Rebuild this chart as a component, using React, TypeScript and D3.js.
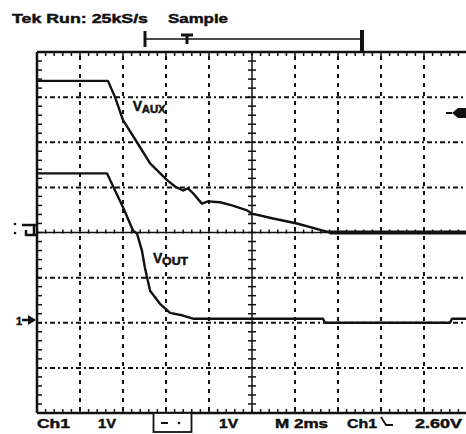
import React from "react";
import * as d3 from "d3";

// scope screen: 2 ms/div horizontally, 1 V/div vertically, ch1 ground at 0
const auxTime = [0, 3.3, 3.63, 4.0, 4.65, 5.26, 6.05, 6.42, 6.79, 7.02, 7.26, 7.67, 7.95, 8.51, 9.07, 9.77, 10.0, 10.98, 12.09, 13.3, 13.63, 20];
const auxVolts = [5.36, 5.36, 5.0, 4.49, 4.0, 3.53, 3.16, 3.02, 2.93, 2.98, 2.87, 2.64, 2.69, 2.67, 2.6, 2.49, 2.42, 2.31, 2.2, 2.04, 2.0, 2.0];

const outTime = [0, 3.26, 3.63, 4.0, 4.47, 4.65, 4.88, 5.02, 5.26, 5.72, 6.19, 6.79, 7.26, 13.3, 13.4, 19.21, 19.3, 20];
const outVolts = [3.31, 3.31, 2.93, 2.56, 2.04, 1.98, 1.6, 1.22, 0.71, 0.42, 0.22, 0.16, 0.09, 0.09, 0.0, 0.0, 0.09, 0.09];

const headerLabels = ["Tek Run: 25kS/s", "Sample"];
const readoutLabels = ["Ch1", "1V", "1V", "M 2ms", "Ch1", "2.60V"];
const traceLabels = [
  { main: "V", sub: "AUX", t: 4.45, v: 4.7 },
  { main: "V", sub: "OUT", t: 5.4, v: 1.33 },
];

const W = 466;
const H = 434;
const ink = "#111";

const App = () => {
  const x = d3.scaleLinear().domain([0, 20]).range([37, 467]);
  const y = d3.scaleLinear().domain([-2, 6]).range([413, 52]);

  const line = d3
    .line<[number, number]>()
    .x((d) => x(d[0]))
    .y((d) => y(d[1]));

  const auxPts = auxTime.map((t, i) => [t, auxVolts[i]] as [number, number]);
  const outPts = outTime.map((t, i) => [t, outVolts[i]] as [number, number]);

  const majorX = d3.range(2, 20, 2).filter((t) => t !== 10);
  const majorY = d3.range(-1, 6, 1).filter((v) => v !== 2);
  const minorX = d3.range(0, 20.01, 0.4);
  const minorY = d3.range(-2, 6.01, 0.2);

  const font = "'Liberation Sans', Arial, sans-serif";
  const txt = { fontFamily: font, fontWeight: "bold", fill: ink, stroke: ink, strokeWidth: 0.45 } as const;

  return (
    <svg width={W} height={H} style={{ position: "absolute", left: 0, top: 0, background: "#fff" }}>
      {/* header */}
      <text x={12} y={23} {...txt} fontSize={13} textLength={136} lengthAdjust="spacingAndGlyphs">
        {headerLabels[0]}
      </text>
      <text x={168} y={23} {...txt} fontSize={13} textLength={60} lengthAdjust="spacingAndGlyphs">
        {headerLabels[1]}
      </text>

      {/* record bracket */}
      <line x1={145} x2={362} y1={39} y2={39} stroke={ink} strokeWidth={1.5} />
      <line x1={145} x2={145} y1={31} y2={47} stroke={ink} strokeWidth={3} />
      <line x1={362} x2={362} y1={30} y2={52} stroke={ink} strokeWidth={4} />
      <path d="M181,35 H193 M187,35 V44" stroke={ink} strokeWidth={3} fill="none" />

      {/* dotted verticals */}
      {majorX.map((t) => (
        <line key={"gx" + t} x1={x(t)} x2={x(t)} y1={y(6) + 4} y2={y(-2) - 2} stroke={ink} strokeWidth={2} strokeDasharray="4,5" />
      ))}
      {/* dash-dot horizontals */}
      {majorY.map((v) => (
        <line key={"gy" + v} x1={x(0)} x2={x(20)} y1={y(v)} y2={y(v)} stroke={ink} strokeWidth={2} strokeDasharray="5,3,2,3" />
      ))}

      {/* centre axes with ticks */}
      <line x1={x(10)} x2={x(10)} y1={y(6)} y2={y(-2)} stroke={ink} strokeWidth={1.5} />
      <line x1={x(0)} x2={x(20)} y1={y(2)} y2={y(2)} stroke={ink} strokeWidth={1.5} />
      {minorY.map((v) => (
        <line key={"cy" + v} x1={x(10) - 4} x2={x(10) + 4} y1={y(v)} y2={y(v)} stroke={ink} strokeWidth={1.5} />
      ))}
      {minorX.map((t) => (
        <line key={"cx" + t} x1={x(t)} x2={x(t)} y1={y(2) - 3} y2={y(2) + 1} stroke={ink} strokeWidth={1.5} />
      ))}

      {/* frame ticks */}
      {minorX.map((t) => (
        <g key={"fx" + t}>
          <line x1={x(t)} x2={x(t)} y1={y(6)} y2={y(6) + 4} stroke={ink} strokeWidth={1.5} />
          <line x1={x(t)} x2={x(t)} y1={y(-2)} y2={y(-2) - 4} stroke={ink} strokeWidth={1.5} />
        </g>
      ))}
      {minorY.map((v) => (
        <line key={"fy" + v} x1={x(0)} x2={x(0) + 5} y1={y(v)} y2={y(v)} stroke={ink} strokeWidth={1.5} />
      ))}

      {/* frame */}
      <line x1={x(0)} x2={x(20)} y1={y(6)} y2={y(6)} stroke={ink} strokeWidth={2.5} />
      <line x1={x(0)} x2={x(20)} y1={y(-2)} y2={y(-2)} stroke={ink} strokeWidth={2.5} />
      <line x1={x(0)} x2={x(0)} y1={y(6)} y2={y(-2)} stroke={ink} strokeWidth={2.5} />

      {/* traces */}
      <path d={line(auxPts) ?? ""} fill="none" stroke={ink} strokeWidth={2.4} strokeLinejoin="round" />
      <path d={line(auxPts.filter((p) => p[1] <= 2.0)) ?? ""} fill="none" stroke={ink} strokeWidth={4} />
      <path d={line(outPts) ?? ""} fill="none" stroke={ink} strokeWidth={2.4} strokeLinejoin="round" />

      {/* trace labels */}
      {traceLabels.map((l) => (
        <g key={l.sub} {...txt}>
          <text x={x(l.t)} y={y(l.v)} fontSize={14}>{l.main}</text>
          <text x={x(l.t) + 9} y={y(l.v) + 2} fontSize={10} textLength={l.sub === "AUX" ? 24 : 26} lengthAdjust="spacingAndGlyphs">{l.sub}</text>
        </g>
      ))}

      {/* left markers: trigger level and ch1 ground */}
      <circle cx={15} cy={224} r={1.3} fill={ink} />
      <circle cx={15} cy={233} r={1.3} fill={ink} />
      <path d="M22,225 H36 M34,225 V236 M26,235 H36 M26,230 V236" stroke={ink} strokeWidth={2.5} fill="none" />
      <text x={16} y={325} {...txt} fontSize={11}>1</text>
      <path d="M22,320 H30" stroke={ink} strokeWidth={2.5} />
      <path d="M28,315 L36,320 L28,325 Z" fill={ink} />

      {/* right trigger-position marker */}
      <path d="M452,113 L458,108 L466,108 L466,118 L458,118 Z" fill={ink} />
      <line x1={446} x2={452} y1={113} y2={113} stroke={ink} strokeWidth={2} />

      {/* readout */}
      <g {...txt} fontSize={13}>
        <text x={37} y={428} textLength={33} lengthAdjust="spacingAndGlyphs">{readoutLabels[0]}</text>
        <text x={98} y={428} textLength={18} lengthAdjust="spacingAndGlyphs">{readoutLabels[1]}</text>
        <text x={219} y={428} textLength={19} lengthAdjust="spacingAndGlyphs">{readoutLabels[2]}</text>
        <text x={275} y={428} textLength={53} lengthAdjust="spacingAndGlyphs">{readoutLabels[3]}</text>
        <text x={347} y={428} textLength={30} lengthAdjust="spacingAndGlyphs">{readoutLabels[4]}</text>
        <text x={415} y={428} textLength={47} lengthAdjust="spacingAndGlyphs">{readoutLabels[5]}</text>
      </g>
      <path d="M381,417 L386,425 H393" stroke={ink} strokeWidth={1.8} fill="none" />
      <rect x={153.5} y={413} width={38} height={19} fill="#fff" stroke={ink} strokeWidth={1.8} />
      <line x1={161} x2={168} y1={423} y2={423} stroke={ink} strokeWidth={2} />
      <circle cx={179} cy={423} r={1.3} fill={ink} />
    </svg>
  );
};

export default App;
